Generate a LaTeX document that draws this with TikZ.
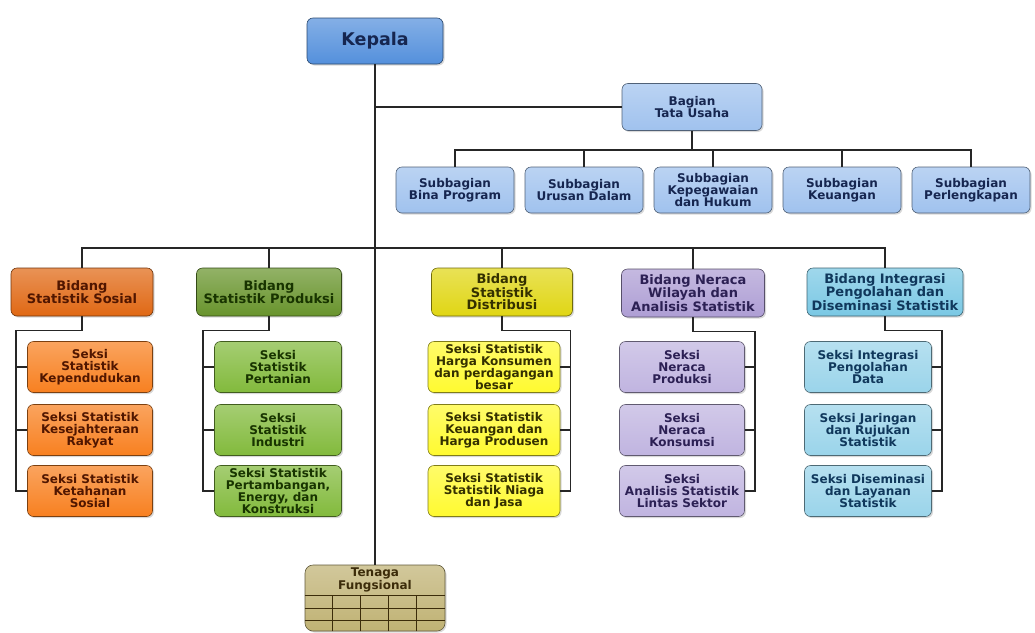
\documentclass[tikz,border=0pt]{standalone}
\usepackage{fontspec}
\setmainfont{DejaVu Sans}
\usepackage{tikz}
\usetikzlibrary{positioning}
\usetikzlibrary{shadows}

\definecolor{kepalablue}{RGB}{84,144,220}
\definecolor{tublue}{RGB}{160,194,238}
\definecolor{navytext}{RGB}{22,38,80}
\definecolor{sosbid}{RGB}{224,104,20}
\definecolor{sosseksi}{RGB}{248,128,32}
\definecolor{sostext}{RGB}{80,22,0}
\definecolor{probid}{RGB}{104,148,44}
\definecolor{proseksi}{RGB}{130,186,60}
\definecolor{protext}{RGB}{24,52,0}
\definecolor{disbid}{RGB}{224,214,20}
\definecolor{disseksi}{RGB}{255,250,48}
\definecolor{distext}{RGB}{52,48,0}
\definecolor{nerbid}{RGB}{174,158,212}
\definecolor{nerseksi}{RGB}{192,180,224}
\definecolor{nertext}{RGB}{44,32,84}
\definecolor{intbid}{RGB}{122,200,228}
\definecolor{intseksi}{RGB}{154,212,234}
\definecolor{inttext}{RGB}{16,56,92}
\definecolor{tenkhaki}{RGB}{192,178,116}
\definecolor{tentext}{RGB}{60,44,10}

\tikzset{
  unit/.style={rectangle, rounded corners=6pt, draw=#1!50!black, semithick,
    top color=#1!72!white, bottom color=#1, align=center, inner sep=1pt,
    drop shadow={opacity=0.3, shadow xshift=1.5pt, shadow yshift=-1.5pt}},
  kepala/.style={unit=kepalablue, text=navytext, minimum width=136pt,
    minimum height=46pt, font=\bfseries\fontsize{17.5}{18}\selectfont},
  subbag/.style={unit=tublue, text=navytext, minimum width=118pt,
    minimum height=46pt, font=\bfseries\fontsize{12}{12}\selectfont},
  bidang/.style 2 args={unit=#1, text=#2, minimum height=48pt,
    font=\bfseries\fontsize{13}{12.5}\selectfont},
  seksi/.style 2 args={unit=#1, text=#2, minimum height=51pt,
    font=\bfseries\fontsize{12}{12}\selectfont},
  link/.style={line width=1.6pt, black!85},
  gridline/.style={line width=1.1pt, tentext}
}

\begin{document}
\begin{tikzpicture}[x=1pt, y=-1pt,
    node distance=129pt,
    on grid]

  \useasboundingbox (0,0) rectangle (1035,632);

  \node[kepala] (Kepala) at (375,41) {Kepala};
  \node[subbag, minimum width=140pt, minimum height=47pt]
    (Bagian) at (692,107) {Bagian\\Tata Usaha};

  \node[subbag] (SubA) at (455,190) {Subbagian\\Bina Program};
  \node[subbag] (SubB) [right=of SubA] {Subbagian\\Urusan Dalam};
  \node[subbag] (SubC) [right=of SubB] {Subbagian\\Kepegawaian\\dan Hukum};
  \node[subbag] (SubD) [right=of SubC] {Subbagian\\Keuangan};
  \node[subbag] (SubE) [right=of SubD] {Subbagian\\Perlengkapan};

  \node[bidang={sosbid}{sostext}, minimum width=142pt]
    (Sosial) at (82,292) {Bidang\\Statistik Sosial};
  \node[bidang={probid}{protext}, minimum width=145pt]
    (Produksi) at (269,292) {Bidang\\Statistik Produksi};
  \node[bidang={disbid}{distext}, minimum width=141pt]
    (Distribusi) at (502,292) {Bidang\\Statistik\\Distribusi};
  \node[bidang={nerbid}{nertext}, minimum width=143pt]
    (Neraca) at (693,293) {Bidang Neraca\\Wilayah dan\\Analisis Statistik};
  \node[bidang={intbid}{inttext}, minimum width=156pt]
    (Integrasi) at (885,292) {Bidang Integrasi\\Pengolahan dan\\Diseminasi Statistik};

  \node[seksi={sosseksi}{sostext}, minimum width=125pt]
    (SosialA) at (90,367) {Seksi\\Statistik\\Kependudukan};
  \node[seksi={sosseksi}{sostext}, minimum width=125pt]
    (SosialB) [below=63pt of SosialA] {Seksi Statistik\\Kesejahteraan\\Rakyat};
  \node[seksi={sosseksi}{sostext}, minimum width=125pt]
    (SosialC) [below=61pt of SosialB] {Seksi Statistik\\Ketahanan\\Sosial};

  \node[seksi={proseksi}{protext}, minimum width=127pt]
    (ProduksiA) at (278,367) {Seksi\\Statistik\\Pertanian};
  \node[seksi={proseksi}{protext}, minimum width=127pt]
    (ProduksiB) [below=63pt of ProduksiA] {Seksi\\Statistik\\Industri};
  \node[seksi={proseksi}{protext}, minimum width=127pt]
    (ProduksiC) [below=61pt of ProduksiB] {Seksi Statistik\\Pertambangan,\\Energy, dan\\Konstruksi};

  \node[seksi={disseksi}{distext}, minimum width=132pt]
    (DistribusiA) at (494,367) {Seksi Statistik\\Harga Konsumen\\dan perdagangan\\besar};
  \node[seksi={disseksi}{distext}, minimum width=132pt]
    (DistribusiB) [below=63pt of DistribusiA] {Seksi Statistik\\Keuangan dan\\Harga Produsen};
  \node[seksi={disseksi}{distext}, minimum width=132pt]
    (DistribusiC) [below=61pt of DistribusiB] {Seksi Statistik\\Statistik Niaga\\dan Jasa};

  \node[seksi={nerseksi}{nertext}, minimum width=125pt]
    (NeracaA) at (682,367) {Seksi\\Neraca\\Produksi};
  \node[seksi={nerseksi}{nertext}, minimum width=125pt]
    (NeracaB) [below=63pt of NeracaA] {Seksi\\Neraca\\Konsumsi};
  \node[seksi={nerseksi}{nertext}, minimum width=125pt]
    (NeracaC) [below=61pt of NeracaB] {Seksi\\Analisis Statistik\\Lintas Sektor};

  \node[seksi={intseksi}{inttext}, minimum width=127pt]
    (IntegrasiA) at (868,367) {Seksi Integrasi\\Pengolahan\\Data};
  \node[seksi={intseksi}{inttext}, minimum width=127pt]
    (IntegrasiB) [below=63pt of IntegrasiA] {Seksi Jaringan\\dan Rujukan\\Statistik};
  \node[seksi={intseksi}{inttext}, minimum width=127pt]
    (IntegrasiC) [below=61pt of IntegrasiB] {Seksi Diseminasi\\dan Layanan\\Statistik};

  \node[unit=tenkhaki, rounded corners=8pt, minimum width=140pt, minimum height=66pt]
    (Tenaga) at (375,598) {};
  \node[text=tentext, align=center, font=\bfseries\fontsize{12}{11.5}\selectfont]
    (TenagaLabel) at (375,580) {Tenaga\\Fungsional};
  \foreach \i in {1,...,4}
    \draw[gridline] ([xshift=\i*28pt]Tenaga.south west) -- ++(0,-36);
  \foreach \h in {11,23,36}
    \draw[gridline] ([yshift=\h pt]Tenaga.south west) -- ([yshift=\h pt]Tenaga.south east);

  \draw[link] (Kepala) -- (Tenaga);
  \draw[link] (Kepala.south |- Bagian.west) -- (Bagian.west);
  \draw[link] (Bagian.south) -- ++(0,20);
  \draw[link] (SubA.north) -- ++(0,-17) -| (SubE.north);
  \foreach \n in {SubB,SubC,SubD}
    \draw[link] (\n.north) -- ++(0,-17);

  \draw[link] (Sosial.north) -- ++(0,-20) -| (Integrasi.north);
  \foreach \n in {Produksi,Distribusi,Neraca}
    \draw[link] (\n.north) -- ++(0,-20);

  \foreach \n in {SosialA,SosialB,SosialC}
    \draw[link] (Sosial.south) -- ++(0,14) -| ([xshift=-11pt]\n.west) -- (\n.west);
  \foreach \n in {ProduksiA,ProduksiB,ProduksiC}
    \draw[link] (Produksi.south) -- ++(0,14) -| ([xshift=-11pt]\n.west) -- (\n.west);
  \foreach \n in {DistribusiA,DistribusiB,DistribusiC}
    \draw[link] (Distribusi.south) -- ++(0,14) -| ([xshift=10pt]\n.east) -- (\n.east);
  \foreach \n in {NeracaA,NeracaB,NeracaC}
    \draw[link] (Neraca.south) -- ++(0,14) -| ([xshift=10pt]\n.east) -- (\n.east);
  \foreach \n in {IntegrasiA,IntegrasiB,IntegrasiC}
    \draw[link] (Integrasi.south) -- ++(0,14) -| ([xshift=10pt]\n.east) -- (\n.east);

\end{tikzpicture}
\end{document}
